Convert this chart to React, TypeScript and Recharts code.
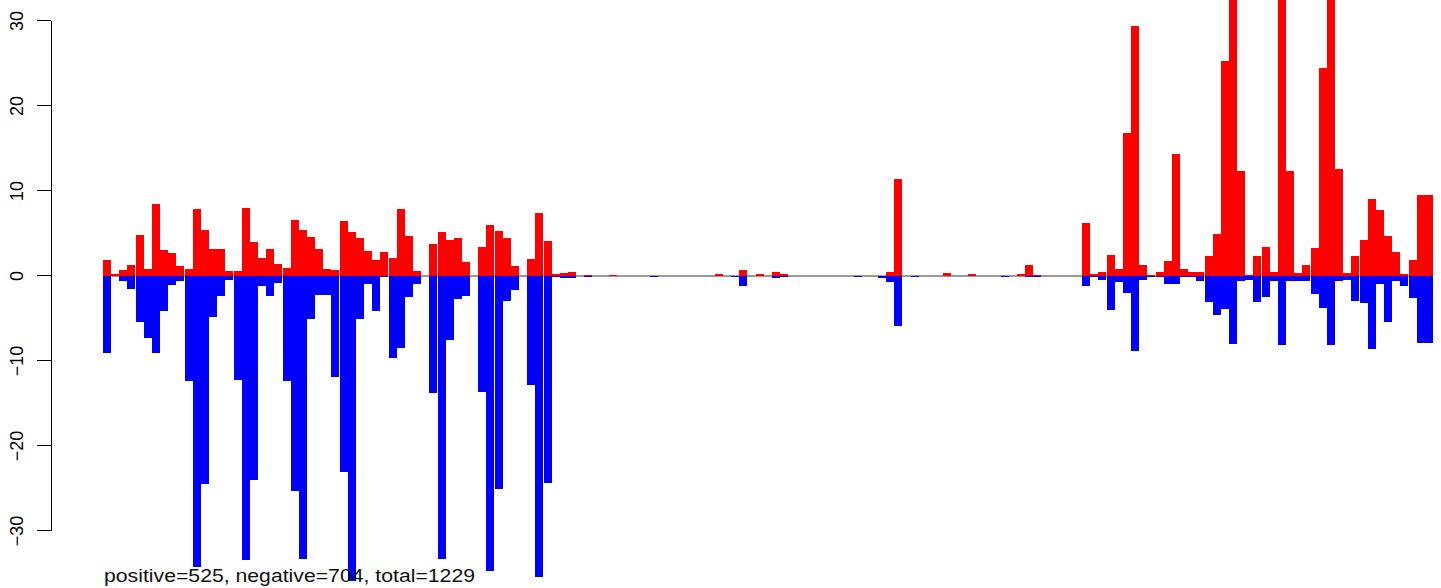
import React from 'react';
import { BarChart, Bar, XAxis, YAxis, ReferenceLine } from 'recharts';

// values per position (left to right)
const positive = [
  1.9, 0.25, 0.7, 1.3, 4.8, 0.8, 8.5, 3.1, 2.7, 1.2,
  0.8, 7.9, 5.4, 3.2, 3.2, 0.6, 0.6, 8.0, 4.0, 2.1,
  3.2, 1.4, 0.9, 6.6, 5.4, 4.6, 3.2, 0.8, 0.7, 6.5,
  5.2, 4.5, 2.9, 1.9, 2.8, 2.1, 7.9, 4.7, 0.6, 0,
  3.8, 5.2, 4.2, 4.5, 1.6, 0, 3.4, 6.0, 5.3, 4.5,
  1.2, 0, 2.0, 7.4, 4.1, 0.27, 0.35, 0.47, 0, 0.1,
  0, 0, 0.1, 0, 0, 0, 0, 0, 0, 0,
  0, 0, 0, 0, 0, 0.27, 0, 0, 0.7, 0,
  0.27, 0, 0.47, 0.24, 0, 0, 0, 0, 0, 0,
  0, 0, 0, 0, 0, 0, 0.47, 11.4, 0, 0,
  0, 0, 0, 0.35, 0, 0, 0.24, 0, 0, 0,
  0, 0, 0.24, 1.3, 0.1, 0, 0, 0, 0, 0,
  6.2, 0.24, 0.47, 2.5, 0.8, 16.8, 29.4, 1.3, 0.1, 0.47,
  1.76, 14.35, 0.8, 0.47, 0.47, 2.35, 4.9, 25.3, 34, 12.35,
  0.1, 2.35, 3.4, 0.47, 34, 12.35, 0.35, 1.3, 3.3, 24.5,
  34, 12.6, 0.35, 2.35, 4.2, 9.0, 7.8, 4.7, 2.8, 0.24,
  1.9, 9.5, 9.5,
];

const negative = [
  -9.1, 0, -0.6, -1.5, -5.4, -7.3, -9.1, -4.1, -1.1, -0.6,
  -12.3, -34.2, -24.5, -4.8, -2.3, -0.5, -12.2, -33.4, -24.0, -1.2,
  -2.3, -0.8, -12.4, -25.3, -33.3, -5.1, -2.2, -2.2, -11.9, -23.1,
  -35.9, -5.1, -1.0, -4.1, -0.1, -9.6, -8.5, -2.5, -1.0, 0,
  -13.8, -33.3, -7.5, -2.7, -2.4, 0, -13.6, -34.7, -25.1, -2.9,
  -1.6, 0, -12.8, -35.4, -24.3, -0.1, -0.2, -0.2, 0, -0.1,
  0, 0, 0, 0, 0, 0, 0, -0.1, 0, 0,
  0, 0, 0, 0, 0, 0, 0, -0.1, -1.14, 0,
  0, 0, -0.2, -0.1, 0, 0, 0, 0, 0, 0,
  0, 0, -0.1, 0, 0, -0.24, -0.7, -5.9, 0, -0.1,
  0, 0, 0, 0, 0, 0, 0, 0, 0, 0,
  -0.1, 0, 0, -0.1, -0.1, 0, 0, 0, 0, 0,
  -1.2, -0.1, -0.47, -4.0, -0.7, -2.0, -8.8, -0.47, -0.1, -0.1,
  -0.94, -0.94, -0.1, -0.1, -0.6, -3.06, -4.6, -3.9, -8.0, -0.6,
  -0.5, -3.06, -2.5, -0.6, -8.1, -0.6, -0.6, -0.6, -2.1, -3.76,
  -8.1, -0.6, -0.47, -2.9, -3.2, -8.6, -0.94, -5.4, -0.6, -1.2,
  -2.6, -7.9, -7.9,
];

const yTicks = [-30, -20, -10, 0, 10, 20, 30];
const summary = 'positive=525, negative=704, total=1229';

const W = 1441;
const H = 588;
const Y_MIN = -36.71;
const Y_MAX = 32.47;
const PPU = H / (Y_MAX - Y_MIN);
const PAD_LEFT = 52;

const data = positive.map((p, i) => ({ i, pos: p, neg: negative[i] }));

const FONT = '"Liberation Sans", Arial, Helvetica, sans-serif';

const YTick = (props: any) => {
  const { x, y, payload } = props;
  const v = payload.value as number;
  const label = v < 0 ? '\u2212' + Math.abs(v) : String(v);
  const tx = x - 28.3;
  return (
    <g>
      <line x1={x - 13.7} x2={x} y1={y} y2={y} stroke="#000" strokeWidth={1} />
      {v === 30 && <line x1={x} x2={x} y1={y} y2={y + 60 * PPU} stroke="#000" strokeWidth={1} />}
      <text
        x={tx}
        y={y}
        transform={`rotate(-90, ${tx}, ${y})`}
        textAnchor="middle"
        fontSize={18}
        fontFamily={FONT}
        fill="#000"
      >
        {label}
      </text>
    </g>
  );
};

// zero line only under the bars, not across the left padding
const ZeroLine = (props: any) => {
  const { x1, x2, y1, y2 } = props;
  return <line x1={x1 + PAD_LEFT} x2={x2} y1={y1} y2={y2} stroke="#9a9a9a" strokeWidth={1.5} />;
};

export default function App() {
  return (
    <div style={{ position: 'absolute', left: 0, top: 0, width: W, height: H, background: '#fff', shapeRendering: 'crispEdges' }}>
      <BarChart
        width={W}
        height={H}
        data={data}
        margin={{ top: 0, right: 8, bottom: 0, left: 0 }}
        barCategoryGap={0}
        barGap={0}
        stackOffset="sign"
      >
        <XAxis dataKey="i" hide padding={{ left: PAD_LEFT, right: 0 }} />
        <YAxis
          width={51}
          domain={[Y_MIN, Y_MAX]}
          allowDataOverflow
          ticks={yTicks}
          axisLine={false}
          tickLine={false}
          tickSize={0}
          tickMargin={0}
          interval={0}
          tick={<YTick />}
        />
        <ReferenceLine y={0} shape={<ZeroLine />} zIndex={-50} />
        <Bar dataKey="pos" stackId="s" fill="#FF0000" isAnimationActive={false} />
        <Bar dataKey="neg" stackId="s" fill="#0000FF" isAnimationActive={false} />
      </BarChart>
      <svg width={W} height={H} style={{ position: 'absolute', left: 0, top: 0, pointerEvents: 'none' }}>
        <text x={104} y={582} fontSize={17.5} fontFamily={FONT} fill="#111" textLength={371} lengthAdjust="spacingAndGlyphs">
          {summary}
        </text>
      </svg>
    </div>
  );
}
